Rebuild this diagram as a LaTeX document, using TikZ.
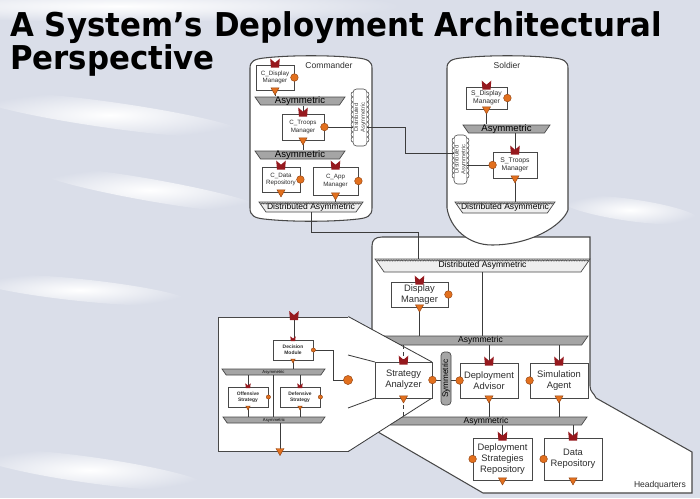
\documentclass[tikz,border=0pt]{standalone}
\usepackage{fontspec}
\setmainfont{Liberation Sans}
\newfontfamily\titlefont[FakeStretch=0.94]{DejaVu Sans}
\usetikzlibrary{decorations.pathmorphing}

\definecolor{bgcol}{RGB}{218,222,233}
\definecolor{edgecol}{RGB}{72,72,72}
\definecolor{wirecol}{RGB}{60,60,60}
\definecolor{txtcol}{RGB}{45,45,45}
\definecolor{barfill}{RGB}{165,165,165}
\definecolor{distfillc}{RGB}{238,238,238}
\definecolor{provred}{RGB}{150,25,30}
\definecolor{portorange}{RGB}{226,112,30}
\definecolor{portdark}{RGB}{150,70,20}

% font sizes used in the drawing
\newcommand\fontHQ{\fontsize{8}{9.4}\selectfont}
\newcommand\fontCmd{\fontsize{5.3}{6.3}\selectfont}
\newcommand\fontSol{\fontsize{5.8}{6.8}\selectfont}
\newcommand\fontExp{\bfseries\fontsize{4.2}{5}\selectfont}
\newcommand\fontBar{\fontsize{7.3}{8}\selectfont}
\newcommand\fontBarL{\fontsize{8.2}{8.5}\selectfont}
\newcommand\fontTiny{\fontsize{3.6}{4}\selectfont}

% component box: name, x1, y1, x2, y2 (pixel grid), label
\newcommand\compbox[7][]{%
  \node[comp,#1,minimum width={(#5-#3)*0.8536pt},minimum height={(#6-#4)*0.8536pt}]
    (#2) at ({(#3+#5)/2},{(#4+#6)/2}) {#7};}

% connector bar (trapezoid, top wider): name, x1, y1, x2, y2, label
\newcommand\asymbar[7][asymfill]{%
  \pgfmathsetmacro\barins{0.7*(#6-#4)}%
  \filldraw[#1] (#3,#4) -- (#5,#4) -- (#5-\barins,#6) -- (#3+\barins,#6) -- cycle;
  \node[bartext,minimum width={(#5-#3)*0.8536pt},minimum height={(#6-#4)*0.8536pt}]
    (#2) at ({(#3+#5)/2},{(#4+#6)/2}) {#7};}

% distributed connector: light bar with a hatched top edge
\newcommand\distbar[6]{%
  \asymbar[distfill]{#1}{#2}{#3}{#4}{#5}{#6}%
  \draw[distedge] (#2+1.5,#3+1.4) -- (#4-1.5,#3+1.4);}

% vertical distributed connector with scalloped sides: name, x1, y1, x2, y2
\newcommand\wavebar[5]{%
  \pgfmathtruncatemacro\nb{(#5-#3-6)/5}%
  \pgfmathsetmacro\ytop{#3+3}%
  \filldraw[fill=white, draw=edgecol, line width=0.5pt, rounded corners=3pt] (#2,#3) rectangle (#4,#5);
  \foreach \i in {1,...,\nb}{
    \pgfmathsetmacro\ya{\ytop+5*(\i-1)}
    \draw[edgecol, line width=0.5pt, fill=white] (#2,\ya) .. controls (#2-2.6,\ya) and (#2-2.6,\ya+5) .. (#2,\ya+5);
    \draw[edgecol, line width=0.5pt, fill=white] (#4,\ya) .. controls (#4+2.6,\ya) and (#4+2.6,\ya+5) .. (#4,\ya+5);
  }
  \node[rotate=90, font=\fontsize{5}{5.6}\selectfont, text=edgecol, align=center, inner sep=0pt]
    (#1) at ({(#2+#4)/2},{(#3+#5)/2}) {Distributed\\Asymmetric};}

\tikzset{
  comp/.style={draw=edgecol, fill=white, line width=0.7pt, text=txtcol,
    align=center, inner sep=0pt},
  bartext/.style={inner sep=0pt, text=black, align=center},
  asymfill/.style={fill=barfill, draw=edgecol, line width=0.6pt},
  distfill/.style={fill=distfillc, draw=edgecol, line width=0.6pt},
  distedge/.style={draw=edgecol, line width=0.35pt, decorate,
    decoration={zigzag, amplitude=0.6pt, segment length=1.4pt}},
  container/.style={draw=edgecol, line width=0.9pt},
  wire/.style={draw=wirecol, line width=0.7pt},
  prov/.pic={\fill[provred] (-4,3) -- (-4.8,-6) -- (-1.8,-3.4)
      .. controls (-0.9,-1.4) and (0.9,-1.4) .. (1.8,-3.4) -- (4.8,-6) -- (4,3) -- cycle;},
  req/.pic={\filldraw[fill=portorange, draw=portdark, line width=0.4pt] (0,0) circle[radius=3.8];},
  out/.pic={\filldraw[fill=portorange, draw=portdark, line width=0.4pt]
      (-4,-2.5) -- (4,-2.5) -- (0,4.5) -- cycle;},
}

\begin{document}
\begin{tikzpicture}[x=0.03cm, y=-0.03cm]
\useasboundingbox (0,0) rectangle (700,498);

% ---------- backdrop ----------
\fill[bgcol] (0,0) rectangle (700,498);
\shade[inner color=white, outer color=bgcol] (120,6) ellipse[x radius=280, y radius=16];
\shade[inner color=white, outer color=bgcol, rotate around={-8:(110,115)}] (110,115) ellipse[x radius=140, y radius=13];
\shade[inner color=white, outer color=bgcol, rotate around={-10:(150,190)}] (150,190) ellipse[x radius=120, y radius=11];
\shade[inner color=white, outer color=bgcol, rotate around={-6:(80,290)}] (80,290) ellipse[x radius=110, y radius=11];
\shade[inner color=white, outer color=bgcol, rotate around={-8:(630,210)}] (630,210) ellipse[x radius=70, y radius=11];
\shade[inner color=white, outer color=bgcol, rotate around={-8:(90,470)}] (90,470) ellipse[x radius=120, y radius=13];

% ---------- title ----------
\node[anchor=base west, inner sep=0pt, font=\titlefont\bfseries\fontsize{28}{30}\selectfont]
  (title1) at (10,36) {A System’s Deployment Architectural};
\node[anchor=base west, inner sep=0pt, font=\titlefont\bfseries\fontsize{28}{30}\selectfont]
  (title2) at (10,69) {Perspective};

% ---------- Headquarters host ----------
\fill[white] (372,330) -- (372,246) .. controls (372,240) and (375,237) .. (382,237)
  -- (590,237) -- (590,386) .. controls (590,392) and (594,393) .. (596,398)
  -- (692,452) -- (692,493) -- (483,493) -- (378,432) -- cycle;
\draw[container] (372,330) -- (372,246) .. controls (372,240) and (375,237) .. (382,237)
  -- (590,237) -- (590,386) .. controls (590,392) and (594,393) .. (596,398)
  -- (692,452) -- (692,493) -- (483,493) -- (378,432);
\node[font=\fontsize{7.3}{8}\selectfont, text=txtcol, anchor=east] (hqlabel) at (690,485) {Headquarters};

% ---------- Commander host ----------
\filldraw[container, fill=white] (250,208) -- (250,68) .. controls (250,61) and (255,59) .. (264,58)
  .. controls (290,55) and (332,55) .. (358,58) .. controls (367,59) and (372,61) .. (372,68)
  -- (372,208) .. controls (372,216) and (367,218) .. (358,219)
  .. controls (332,222) and (290,222) .. (264,219) .. controls (255,218) and (250,216) .. (250,208) -- cycle;
\node[font=\fontsize{7.3}{8}\selectfont, text=txtcol] (cmdlabel) at (329,65) {Commander};

% ---------- Soldier host ----------
\filldraw[container, fill=white] (447,208) -- (447,68) .. controls (447,61) and (452,59) .. (461,58)
  .. controls (487,55) and (528,55) .. (554,58) .. controls (563,59) and (568,61) .. (568,68)
  -- (568,210) .. controls (562,226) and (530,245) .. (492,245)
  .. controls (468,245) and (450,228) .. (447,208) -- cycle;
\node[font=\fontsize{7.3}{8}\selectfont, text=txtcol] (sollabel) at (507,65) {Soldier};

% ---------- Commander contents ----------
\compbox[font=\fontCmd]{cdm}{256}{65}{294}{90}{C\_Display\\Manager}
\asymbar{cbar1}{255}{97}{345}{105}{\fontBarL Asymmetric}
\compbox[font=\fontCmd]{ctm}{282}{114}{324}{140}{C\_Troops\\Manager}
\asymbar{cbar2}{255}{151}{345}{159}{\fontBarL Asymmetric}
\compbox[font=\fontCmd]{cdr}{262}{167}{300}{192}{C\_Data\\Repository}
\compbox[font=\fontCmd]{cam}{313}{167}{358}{195}{C\_App\\Manager}
\distbar{cdist}{259}{202}{363}{212}{\fontBar Distributed Asymmetric}
\wavebar{cwave}{353}{89}{367}{146}

% ---------- Soldier contents ----------
\compbox[font=\fontSol]{sdm}{466}{87}{507}{109}{S\_Display\\Manager}
\asymbar{sbar1}{463}{125}{550}{133}{\fontBarL Asymmetric}
\compbox[font=\fontSol]{stm}{493}{152}{537}{178}{S\_Troops\\Manager}
\distbar{sdist}{455}{202}{555}{213}{\fontBar Distributed Asymmetric}
\wavebar{swave}{454}{135}{467}{184}

% ---------- Headquarters contents ----------
\distbar{hdist}{375}{259}{590}{272}{\fontBar Distributed Asymmetric}
\compbox[font=\fontHQ]{hdm}{391}{282}{448}{307}{Display\\Manager}
\asymbar{hbar1}{373}{336}{588}{345}{\fontBar Asymmetric}
\asymbar{hbar2}{385}{417}{587}{425}{\fontBar Asymmetric}
\compbox[font=\fontHQ]{da}{460}{363}{518}{398}{Deployment\\Advisor}
\compbox[font=\fontHQ]{sim}{530}{363}{588}{398}{Simulation\\Agent}
\compbox[font=\fontHQ]{dsr}{473}{438}{532}{480}{Deployment\\Strategies\\Repository}
\compbox[font=\fontHQ]{drep}{544}{438}{602}{480}{Data\\Repository}
\node[draw=edgecol, fill=barfill, rounded corners=3pt, line width=0.6pt, inner sep=0pt,
  minimum width={10*0.8536pt}, minimum height={53*0.8536pt}] (sym) at (446,378.5) {};
\node[rotate=90, font=\fontsize{7}{8}\selectfont, inner sep=0pt] (symlabel) at (sym.center) {Symmetric};

% wires inside Headquarters
\draw[wire] (hdm.south) -- (hdm.south |- hbar1.north);
\draw[wire] (hdist.south) -- (hdist.south |- hbar1.north);
\draw[wire] (da.north |- hbar1.south) -- (da.north);
\draw[wire] (sim.north |- hbar1.south) -- (sim.north);
\draw[wire] (da.south) -- (da.south |- hbar2.north);
\draw[wire] (sim.south) -- (sim.south |- hbar2.north);
\draw[wire] (dsr.north |- hbar2.south) -- (dsr.north);
\draw[wire] (drep.north |- hbar2.south) -- (drep.north);
\draw[wire] (sym.east |- da.west) -- (da.west);

% ---------- Strategy Analyzer, opened up to its own configuration ----------
\compbox{exp}{218}{317}{348}{451}{}
\fill[white] (348,317) -- (432,362) -- (432,398) -- (348,451) -- cycle;
\draw[wire] (exp.north east) -- (432,362);
\draw[wire] (exp.south east) -- (432,398);
\draw[wire] (348,355) -- (375,362);
\draw[wire] (348,408) -- (375,398);
\compbox[font=\fontHQ]{sa}{375}{362}{432}{398}{Strategy\\Analyzer}
\draw[wire] (sa.east) -- (sa.east -| sym.west);
\draw[wire, dashed] (sa.north |- hbar1.south) -- (sa.north);
\draw[wire, dashed] (sa.south) -- (sa.south |- hbar2.north);

\compbox[font=\fontExp]{dmod}{273}{340}{313}{360}{Decision\\Module}
\asymbar{ebar1}{222}{369}{325}{375}{\fontTiny Asymmetric}
\compbox[font=\fontExp]{ost}{228}{387}{268}{407}{Offensive\\Strategy}
\compbox[font=\fontExp]{dst}{280}{387}{320}{407}{Defensive\\Strategy}
\asymbar{ebar2}{223}{417}{325}{423}{\fontTiny Asymmetric}
\coordinate (expin) at (294,317);
\coordinate (expout) at (280,451);
\coordinate (expreq) at (348,380);
\draw[wire] (expin) -- (expin |- dmod.north);
\draw[wire] (dmod.south) -- (dmod.south |- ebar1.north);
\draw[wire] (ost.north |- ebar1.south) -- (ost.north);
\draw[wire] (dst.north |- ebar1.south) -- (dst.north);
\draw[wire] (273,375) -- (273,417);
\draw[wire] (ost.south) -- (ost.south |- ebar2.north);
\draw[wire] (dst.south) -- (dst.south |- ebar2.north);
\draw[wire] (expout |- ebar2.south) -- (expout);
\draw[wire] (dmod.east) -| (333,380) -- (expreq);

% ---------- wires between hosts ----------
\coordinate (bendA) at (405,127);
\coordinate (solin) at (454,153);
\draw[wire] (ctm.east) -- (353,127);
\draw[wire] (367,127) -| (bendA) |- (solin);
\draw[wire] (467,165) -- (stm.west);
\coordinate (bendB) at (311,232);
\draw[wire] (311,212) -- (bendB) -| (418,259);
% wires inside Commander
\draw[wire] (cdm.south) -- (cdm.south |- cbar1.north);
\draw[wire] (ctm.north |- cbar1.south) -- (ctm.north);
\draw[wire] (ctm.south) -- (ctm.south |- cbar2.north);
\draw[wire] (cam.south) -- (cam.south |- cdist.north);
% wires inside Soldier
\draw[wire] (sdm.south) -- (sdm.south |- sbar1.north);
\draw[wire] (515,133) -- (stm.north);
\draw[wire] (stm.south) -- (stm.south |- sdist.north);

% ---------- ports ----------
\foreach \b in {cdm,ctm,cdr,cam,sdm,stm,hdm,da,sim,dsr,drep,sa}{
  \pic at (\b.north) {prov};
  \pic at (\b.south) {out};
}
\foreach \b in {cdm,ctm,cdr,cam,sdm,hdm,sa}{ \pic at (\b.east) {req}; }
\foreach \b in {stm,da,sim,dsr,drep}{ \pic at (\b.west) {req}; }
\foreach \b in {dmod,ost,dst}{
  \pic[scale=0.55] at (\b.north) {prov};
  \pic[scale=0.55] at (\b.south) {out};
  \pic[scale=0.55] at (\b.east) {req};
}
\pic at (expin) {prov};
\pic at (expout) {out};
\pic[scale=1.2] at (expreq) {req};
\end{tikzpicture}
\end{document}
